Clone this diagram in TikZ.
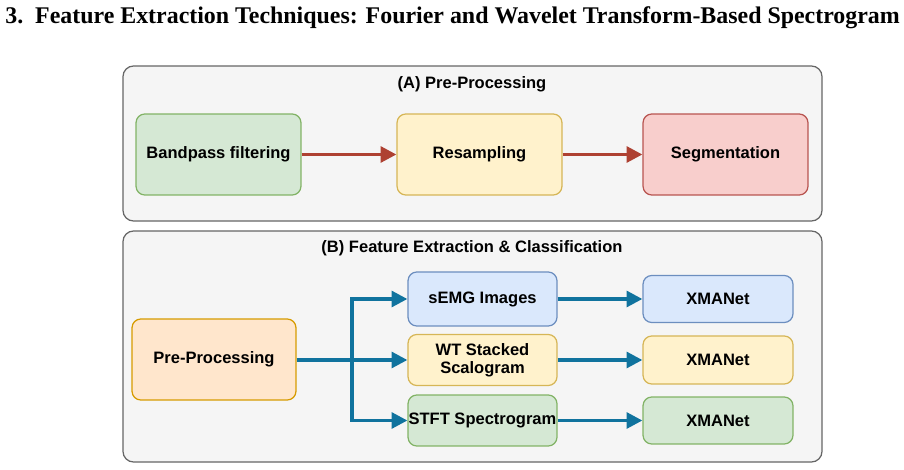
\documentclass[tikz,border=0pt]{standalone}
\usepackage{fontspec}
\setmainfont{Liberation Serif}
\newfontfamily\boxfont{Liberation Sans}
\usetikzlibrary{arrows.meta}
\definecolor{panelFill}{HTML}{F5F5F5}
\definecolor{panelLine}{HTML}{666666}
\definecolor{greenFill}{HTML}{D5E8D4}\definecolor{greenLine}{HTML}{82B366}
\definecolor{yellowFill}{HTML}{FFF2CC}\definecolor{yellowLine}{HTML}{D6B656}
\definecolor{redFill}{HTML}{F8CECC}\definecolor{redLine}{HTML}{B85450}
\definecolor{blueFill}{HTML}{DAE8FC}\definecolor{blueLine}{HTML}{6C8EBF}
\definecolor{orangeFill}{HTML}{FFE6CC}\definecolor{orangeLine}{HTML}{D79B00}
\definecolor{redArrow}{HTML}{AE4132}
\definecolor{blueArrow}{HTML}{10739E}
\begin{document}
\begin{tikzpicture}[x=0.02cm,y=-0.02cm,
  panel/.style={draw=panelLine,fill=panelFill,rounded corners=6pt,line width=0.7pt},
  step/.style={draw=#1Line,fill=#1Fill,rounded corners=5pt,line width=0.7pt,
    font=\boxfont\bfseries\fontsize{9.4}{10.5}\selectfont,align=center,inner sep=0pt},
  redflow/.style={draw=redArrow,line width=2pt,-{Triangle[length=9pt,width=9pt]}},
  blueflow/.style={draw=blueArrow,line width=2pt,-{Triangle[length=9pt,width=9pt]}},
  caption/.style={font=\boxfont\bfseries\fontsize{9.4}{11}\selectfont}]
\useasboundingbox (0,0) rectangle (904,470);

% title
\node[anchor=west,font=\bfseries\fontsize{13.6}{16}\selectfont,inner sep=0pt] (title) at (5,18)
  {3.\ \ Feature Extraction Techniques: Fourier and Wavelet Transform-Based Spectrogram};

% (A) pre-processing panel
\draw[panel] (123,66) rectangle (822,221);
\node[caption] (capA) at (472,84) {(A) Pre-Processing};
\node[step=green,minimum width=3.3cm,minimum height=1.62cm] (band) at (218.5,154.5) {Bandpass filtering};
\node[step=yellow,minimum width=3.3cm,minimum height=1.62cm] (resamp) at (479.5,154.5) {Resampling};
\node[step=red,minimum width=3.3cm,minimum height=1.62cm] (segm) at (725.5,154.5) {Segmentation};
\draw[redflow] (band) -- (resamp);
\draw[redflow] (resamp) -- (segm);

% (B) feature extraction panel
\draw[panel] (123,231) rectangle (822,462);
\node[caption] (capB) at (472,248) {(B) Feature Extraction \& Classification};
\node[step=orange,minimum width=3.28cm,minimum height=1.62cm] (prep) at (214,359.5) {Pre-Processing};
\node[step=blue,minimum width=2.98cm,minimum height=1.08cm] (semg) at (482.5,299) {sEMG Images};
\node[step=yellow,minimum width=2.98cm,minimum height=1.02cm] (wt) at (482.5,360) {WT Stacked\\Scalogram};
\node[step=green,minimum width=2.98cm,minimum height=1.02cm] (stft) at (482.5,420.5) {STFT Spectrogram};
\node[step=blue,minimum width=3cm,minimum height=0.94cm] (netA) at (718,299) {XMANet};
\node[step=yellow,minimum width=3cm,minimum height=0.96cm] (netB) at (718,360) {XMANet};
\node[step=green,minimum width=3cm,minimum height=0.94cm] (netC) at (718,420.5) {XMANet};
\coordinate (fork) at (352,360);
\draw[blueflow] (prep.east |- fork) -- (fork) |- (semg.west);
\draw[blueflow] (fork) -- (wt.west);
\draw[blueflow] (fork) |- (stft.west);
\draw[blueflow] (semg) -- (netA);
\draw[blueflow] (wt) -- (netB);
\draw[blueflow] (stft) -- (netC);
\end{tikzpicture}
\end{document}
